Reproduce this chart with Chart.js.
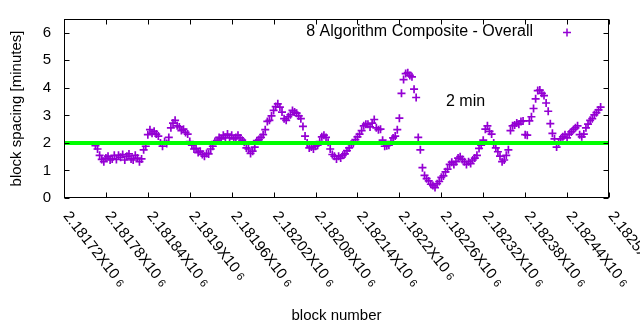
<!DOCTYPE html>
<html lang="en">
<head>
<meta charset="utf-8">
<title>block spacing</title>
<script src="https://cdn.jsdelivr.net/npm/chart.js"></script>
<style>
  html, body { margin: 0; padding: 0; background: #fff; }
</style>
</head>
<body>
<canvas id="spacing-chart" width="640" height="330"></canvas>
<script>
// block numbers (x) and block spacing in minutes (y)
const blocks = [
  2181765,2181768,2181771,2181774,2181777,2181780,2181783,2181786,2181789,2181792,
  2181795,2181798,2181801,2181804,2181807,2181810,2181813,2181816,2181819,2181822,
  2181825,2181828,2181831,2181834,2181837,2181840,2181843,2181846,2181849,2181852,
  2181855,2181858,2181861,2181864,2181867,2181870,2181873,2181876,2181879,2181882,
  2181885,2181888,2181891,2181894,2181897,2181900,2181903,2181906,2181909,2181912,
  2181915,2181918,2181921,2181924,2181927,2181930,2181933,2181936,2181939,2181942,
  2181945,2181948,2181951,2181954,2181957,2181960,2181963,2181966,2181969,2181972,
  2181975,2181978,2181981,2181984,2181987,2181990,2181993,2181996,2181999,2182002,
  2182005,2182008,2182011,2182014,2182017,2182020,2182023,2182026,2182029,2182032,
  2182035,2182038,2182041,2182044,2182047,2182050,2182053,2182056,2182059,2182062,
  2182065,2182068,2182071,2182074,2182077,2182080,2182083,2182086,2182089,2182092,
  2182095,2182098,2182101,2182104,2182107,2182110,2182113,2182116,2182119,2182122,
  2182125,2182128,2182131,2182134,2182137,2182140,2182143,2182146,2182149,2182152,
  2182155,2182158,2182161,2182164,2182167,2182170,2182173,2182176,2182179,2182182,
  2182185,2182188,2182191,2182194,2182197,2182200,2182203,2182206,2182209,2182212,
  2182215,2182218,2182221,2182224,2182227,2182230,2182233,2182236,2182239,2182242,
  2182245,2182248,2182251,2182254,2182257,2182260,2182263,2182266,2182269,2182272,
  2182275,2182278,2182281,2182284,2182287,2182290,2182293,2182296,2182299,2182302,
  2182305,2182308,2182311,2182314,2182317,2182320,2182323,2182326,2182329,2182332,
  2182335,2182338,2182341,2182344,2182347,2182350,2182353,2182356,2182359,2182362,
  2182365,2182368,2182371,2182374,2182377,2182380,2182383,2182386,2182389,2182392,
  2182395,2182398,2182401,2182404,2182407,2182410,2182413,2182416,2182419,2182422,
  2182425,2182428,2182431,2182434,2182437,2182440,2182443,2182446,2182449,2182452,
  2182455,2182458,2182461,2182464,2182467,2182470,2182473,2182476,2182479,2182482,
  2182485,2182488
];
const spacing = [
  1.9,1.78,1.55,1.4,1.32,1.45,1.52,1.38,1.42,1.55,
  1.4,1.55,1.48,1.58,1.38,1.52,1.6,1.42,1.38,1.55,
  1.45,1.32,1.42,1.75,1.88,2.3,2.48,2.35,2.42,2.32,
  2.25,2.0,1.88,2.05,1.98,2.2,2.55,2.72,2.82,2.62,
  2.58,2.45,2.5,2.38,2.32,2.05,1.92,1.78,1.8,1.65,
  1.7,1.58,1.52,1.62,1.6,1.78,1.88,2.05,2.08,2.2,
  2.15,2.28,2.2,2.32,2.18,2.28,2.15,2.2,2.28,2.18,
  2.1,2.02,1.82,1.78,1.62,1.7,1.85,2.08,2.12,2.2,
  2.3,2.48,2.78,2.82,2.98,3.18,3.32,3.42,3.3,3.12,
  2.88,2.82,2.95,3.02,3.18,3.12,3.08,2.98,2.88,2.6,
  2.25,2.0,1.82,1.85,1.78,1.88,1.92,2.05,2.22,2.28,
  2.2,2.02,1.78,1.58,1.52,1.42,1.52,1.45,1.55,1.6,
  1.72,1.82,1.95,1.98,2.12,2.22,2.32,2.45,2.62,2.68,
  2.68,2.58,2.72,2.85,2.55,2.48,2.5,2.1,1.88,1.9,
  1.92,2.05,2.18,2.25,2.48,2.9,3.8,4.3,4.52,4.55,
  4.45,4.4,3.95,3.65,2.2,1.75,1.1,0.82,0.7,0.62,
  0.5,0.45,0.38,0.52,0.6,0.75,0.8,0.95,1.05,1.22,
  1.3,1.22,1.32,1.45,1.5,1.4,1.32,1.22,1.32,1.25,
  1.38,1.45,1.55,1.8,1.92,2.1,2.5,2.62,2.42,2.32,
  2.0,1.82,1.68,1.52,1.32,1.38,1.55,1.75,2.45,2.62,
  2.65,2.72,2.68,2.78,2.8,2.3,2.28,2.8,2.95,3.25,
  3.6,3.9,3.92,3.8,3.72,3.45,3.15,2.7,2.35,2.15,
  1.85,2.02,2.15,2.22,2.3,2.18,2.32,2.4,2.48,2.55,
  2.62,2.3,2.22,2.32,2.55,2.68,2.82,2.88,3.02,3.1,
  3.2,3.3
];

const target = 2;  // the "2 min" reference line

const xTicks = [2181720,2181780,2181840,2181900,2181960,2182020,2182080,
                2182140,2182200,2182260,2182320,2182380,2182440,2182500];
const xTickLabels = ['2.18172','2.18178','2.18184','2.1819','2.18196','2.18202','2.18208',
                     '2.18214','2.1822','2.18226','2.18232','2.18238','2.18244','2.1825'];
const yTicks = [0, 1, 2, 3, 4, 5, 6];

const PURPLE = '#9400d3';
const FONT = '"Liberation Sans", Arial, sans-serif';

const points = blocks.map((b, i) => ({ x: b, y: spacing[i] }));

// gnuplot-ish frame: border, inward ticks on all sides, labels, key
const frame = {
  id: 'frame',
  afterDraw(chart) {
    const { ctx, chartArea: a, scales: { x, y } } = chart;
    ctx.save();
    ctx.strokeStyle = '#000';
    ctx.lineWidth = 1;
    const L = Math.round(a.left) + 0.5, R = Math.round(a.right) - 0.5;
    const T = Math.round(a.top) + 0.5, B = Math.round(a.bottom) - 0.5;
    ctx.strokeRect(L, T, R - L, B - T);

    ctx.beginPath();
    xTicks.forEach(v => {
      const px = Math.round(x.getPixelForValue(v)) + 0.5;
      ctx.moveTo(px, B); ctx.lineTo(px, B - 5);
      ctx.moveTo(px, T); ctx.lineTo(px, T + 5);
    });
    yTicks.forEach(v => {
      const py = Math.round(y.getPixelForValue(v)) + 0.5;
      ctx.moveTo(L, py); ctx.lineTo(L + 5, py);
      ctx.moveTo(R, py); ctx.lineTo(R - 5, py);
    });
    ctx.stroke();

    ctx.fillStyle = '#000';
    // y tick labels
    ctx.font = '15px ' + FONT;
    ctx.textAlign = 'right';
    ctx.textBaseline = 'middle';
    yTicks.forEach(v => ctx.fillText(String(v), 51, y.getPixelForValue(v)));

    // x tick labels, running down to the right
    xTicks.forEach((v, i) => {
      const px = x.getPixelForValue(v);
      ctx.save();
      ctx.translate(px + 2, B + 16);
      ctx.rotate(52 * Math.PI / 180);
      ctx.textAlign = 'left';
      ctx.textBaseline = 'middle';
      ctx.font = '15px ' + FONT;
      const main = xTickLabels[i] + 'X10';
      ctx.fillText(main, 0, 0);
      const w = ctx.measureText(main).width;
      ctx.font = '11px ' + FONT;
      ctx.fillText('6', w + 4, 1);
      ctx.restore();
    });

    // axis titles
    ctx.font = '15px ' + FONT;
    ctx.textAlign = 'center';
    ctx.textBaseline = 'middle';
    ctx.fillText('block number', (a.left + a.right) / 2, 316);
    ctx.save();
    ctx.translate(17, (a.top + a.bottom) / 2);
    ctx.rotate(-Math.PI / 2);
    ctx.fillText('block spacing [minutes]', 0, 0);
    ctx.restore();

    // key
    ctx.font = '16px ' + FONT;
    ctx.textAlign = 'right';
    ctx.fillText('8 Algorithm Composite - Overall', 533, 32);
    ctx.strokeStyle = PURPLE;
    ctx.lineWidth = 1.5;
    ctx.beginPath();
    ctx.moveTo(563, 32.5); ctx.lineTo(571, 32.5);
    ctx.moveTo(567, 28.5); ctx.lineTo(567, 36.5);
    ctx.stroke();

    // label for the reference line
    ctx.fillStyle = '#000';
    ctx.textAlign = 'left';
    ctx.fillText('2 min', 446, 102);
    ctx.restore();
  }
};

new Chart(document.getElementById('spacing-chart').getContext('2d'), {
  type: 'scatter',
  data: {
    datasets: [
      {
        label: '2 min',
        data: [{ x: xTicks[0], y: target }, { x: xTicks[xTicks.length - 1], y: target }],
        showLine: true,
        borderColor: '#00ff00',
        borderWidth: 4,
        pointRadius: 0,
        order: 0
      },
      {
        label: '8 Algorithm Composite - Overall',
        data: points,
        pointStyle: 'cross',
        pointRadius: 4,
        borderColor: PURPLE,
        borderWidth: 1.7,
        order: 1
      }
    ]
  },
  options: {
    responsive: false,
    animation: false,
    layout: { padding: { left: 64, right: 31, top: 19, bottom: 132 } },
    plugins: { legend: { display: false }, tooltip: { enabled: false } },
    scales: {
      x: { type: 'linear', display: false, min: 2181720, max: 2182500 },
      y: { type: 'linear', display: false, min: 0, max: 6.5 }
    }
  },
  plugins: [frame]
});
</script>
</body>
</html>
